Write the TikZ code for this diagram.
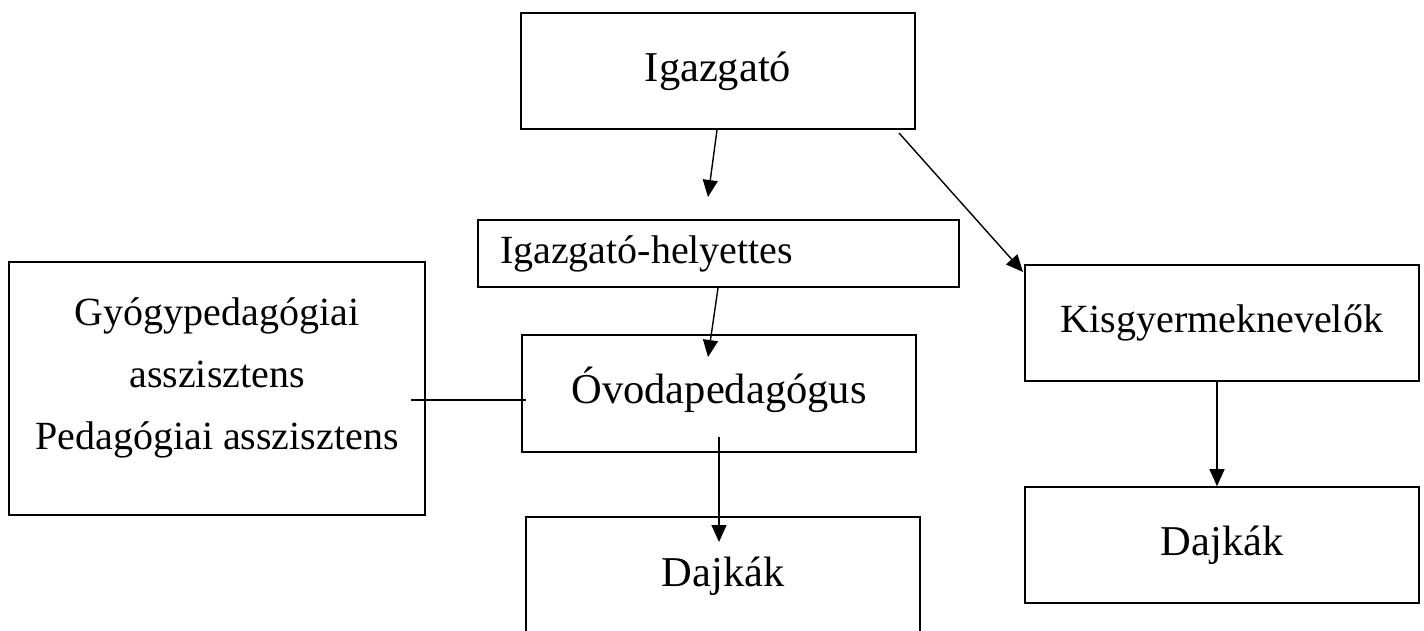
\documentclass[tikz,border=0pt]{standalone}
\usepackage{fontspec}
\setmainfont{Liberation Serif}
\usetikzlibrary{arrows.meta,calc}
\begin{document}
\begin{tikzpicture}[x=1pt,y=-1pt,
  box/.style={draw, line width=1.6pt, rectangle, inner sep=0pt,
    font=\fontsize{40}{62}\selectfont, text height=28pt, text depth=9pt},
  bigtxt/.style={font=\fontsize{42.5}{62}\selectfont, text height=29.5pt, text depth=9.5pt},
  txt/.style={inner sep=0pt, align=center, font=\fontsize{40}{62}\selectfont},
  conn/.style={line width=1.4pt},
  arr/.style={conn, -{Triangle[length=17pt,width=15pt]}}]
\useasboundingbox (0,0) rectangle (1424,630);
\clip (0,0) rectangle (1424,630);
\fill[white] (0,0) rectangle (1424,630);
% boxes
\node[box, bigtxt, minimum width=394pt, minimum height=116pt] (ig) at (718,71) {Igazgató};
\node[box, minimum width=481pt, minimum height=67pt, text width=437pt, inner xsep=22pt, align=left] (hv) at (718.5,253.5) {Igazgató-helyettes};
\node[box, bigtxt, minimum width=394pt, minimum height=117pt] (ov) at (719,393.5) {Óvodapedagógus};
\node[box, bigtxt, minimum width=394pt, minimum height=119pt] (dk1) at (723,576.5) {Dajkák};
\node[box, minimum width=394pt, minimum height=116pt] (kg) at (1222,323) {Kisgyermeknevelők};
\node[box, bigtxt, minimum width=394pt, minimum height=116pt] (dk2) at (1222,545) {Dajkák};
\node[draw, line width=1.6pt, rectangle, inner sep=0pt, minimum width=416pt, minimum height=253pt] (gy) at (217,388.5) {};
\node[txt] (gyt) at (217,378) {Gyógypedagógiai\\asszisztens\\Pedagógiai asszisztens};
% connector end points
\coordinate (a1s) at (717,130);
\coordinate (a1e) at (708,197);
\coordinate (a2s) at (899,133);
\coordinate (a2e) at (1023,272);
\coordinate (a3s) at (718,288);
\coordinate (a3e) at (708,357);
\coordinate (a4s) at (719,437);
\coordinate (a4e) at (719,542);
\coordinate (l1) at (411,400);
\coordinate (l2) at (526,400);
% connectors
\draw[arr] (a1s) -- (a1e);
\draw[arr] (a2s) -- (a2e);
\draw[arr] (a3s) -- (a3e);
\draw[arr] (a4s) -- (a4e);
\draw[arr] ([xshift=-5pt]kg.south) -- ([xshift=-5pt]dk2.north);
\draw[conn] (l1) -- (l2);
\end{tikzpicture}
\end{document}
